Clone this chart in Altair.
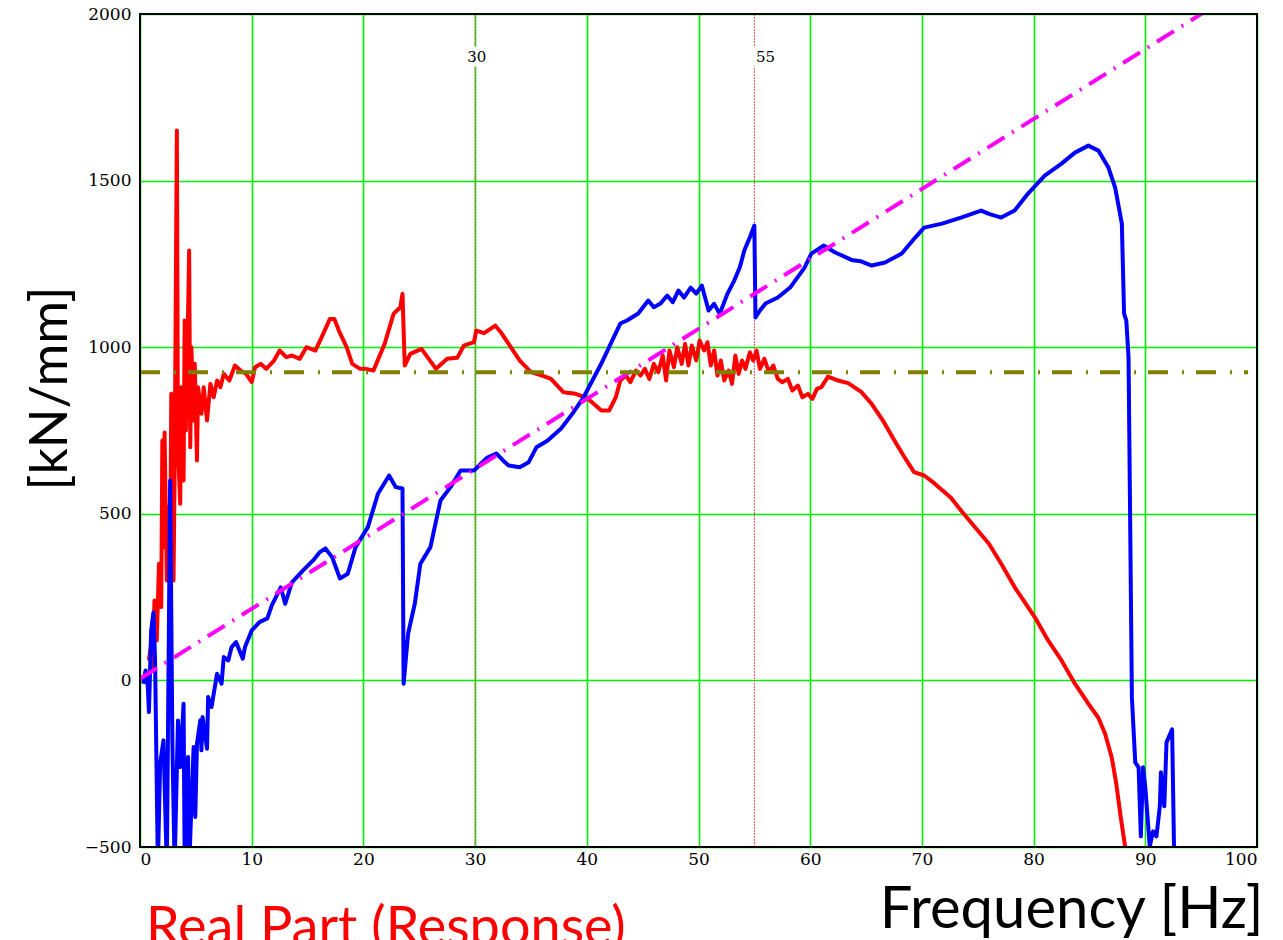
import altair as alt
import pandas as pd

# ---- Real part (red) ----
red_freq = [0.8, 1.0, 1.1, 1.3, 1.5, 1.7, 1.9, 2.0, 2.1, 2.2, 2.4, 2.5, 2.7, 2.8, 3.0, 3.1, 3.3, 3.4, 3.6, 3.7,
            3.9, 4.0, 4.1, 4.2, 4.4, 4.5, 4.6, 4.8, 4.9, 5.1, 5.2, 5.5, 5.7, 6.0, 6.3, 6.6, 6.9, 7.2, 7.5, 8.0,
            8.5, 9.0, 9.5, 10.0, 10.3, 10.8, 11.3, 12.0, 12.5, 13.1, 13.6, 14.3, 14.9, 15.7, 16.4, 17.0, 17.4,
            17.8, 18.5, 19.0, 19.7, 20.2, 20.9, 21.9, 22.7, 23.3, 23.5, 23.7, 24.2, 25.2, 26.5, 27.5, 28.4,
            29.0, 29.9, 30.1, 30.8, 31.8, 32.3, 33.0, 34.0, 35.0, 36.0, 36.8, 37.9, 39.0, 40.0, 41.3, 42.0,
            42.6, 43.0, 43.5, 43.9, 44.4, 44.8, 45.2, 45.6, 46.0, 46.4, 46.8, 47.1, 47.4, 47.8, 48.1, 48.5,
            48.8, 49.1, 49.4, 49.8, 50.1, 50.5, 50.8, 51.1, 51.4, 51.7, 52.0, 52.3, 52.7, 53.0, 53.3, 53.6,
            53.9, 54.2, 54.6, 54.9, 55.2, 55.5, 55.9, 56.3, 56.7, 57.1, 57.5, 58.0, 58.4, 58.9, 59.3, 59.8,
            60.2, 60.6, 61.0, 61.6, 62.5, 63.4,
            64.6, 65.5, 66.6, 67.5, 68.4, 69.3, 70.2, 71.1, 72.6, 73.5, 74.7, 76.0, 77.1, 78.3, 79.5, 80.1,
            81.3, 82.5, 83.7, 84.9, 85.8, 86.4, 87.0, 87.4, 87.8, 88.2, 88.4]
red_kn = [60, 110, 40, 240, 120, 350, 220, 720, 400, 744, 300, 520, 330, 860, 300, 620, 1650, 700, 530, 880,
          600, 1080, 750, 900, 1290, 700, 1000, 780, 950, 660, 880, 800, 880, 780, 890, 850, 900, 880, 920, 900,
          945, 930, 920, 895, 940, 950, 935, 960, 990, 970, 975, 965, 1000, 990, 1040, 1085, 1085,
          1050, 1000, 950, 935, 935, 930, 1010, 1100, 1120, 1160, 945, 980, 995, 935, 965, 968,
          1005, 1015, 1050, 1042, 1065, 1045, 1010, 960, 925, 915, 905, 865, 860, 848, 810, 810,
          850, 900, 915, 895, 930, 915, 935, 905, 950, 925, 975, 900, 990, 940, 1000, 950,
          1010, 945, 1005, 960, 1020, 990, 1015, 945, 990, 915, 960, 900, 930, 890, 975, 920,
          960, 935, 985, 960, 990, 935, 965, 925, 945, 905, 895, 905, 870, 885, 850, 860,
          845, 875, 880, 912, 900, 892,
          865, 830, 775, 722, 672, 625, 615, 592, 548, 510, 462, 410, 350, 280, 220, 190,
          120, 60, -10, -70, -112, -160, -232, -310, -410, -500, -560]

# ---- Imaginary part (blue) ----
blue_freq = [0.3, 0.5, 0.7, 0.8, 1.0, 1.2, 1.35, 1.6, 1.8, 2.1, 2.4, 2.7, 2.9, 3.1, 3.4, 3.6, 3.9, 4.0, 4.3,
             4.4, 4.8, 4.95, 5.1, 5.4, 5.5, 5.6, 6.0, 6.1, 6.4, 6.6, 6.9, 7.3, 7.5, 7.9, 8.2, 8.6, 9.2, 9.4,
             10.0, 10.7, 11.4, 11.8, 12.6, 13.0, 13.6, 14.6, 15.5, 16.1, 16.6, 17.2, 17.9, 18.6, 19.3, 20.4,
             21.3, 22.3, 22.9, 23.5, 23.6, 24.0, 24.6, 25.1, 26.0, 26.9, 27.8, 28.7, 29.9, 31.1, 31.9, 32.5,
             33.0, 34.0, 34.8, 35.5, 36.5, 37.7, 38.7, 39.7, 40.5, 41.3, 42.4, 43.0, 43.6, 44.6, 45.5, 46.0,
             46.6, 47.2, 47.7, 48.2, 48.7, 49.3, 49.8, 50.3, 50.9, 51.4, 51.9, 52.6, 53.2, 53.7, 54.1, 54.6,
             55.0, 55.1, 55.5, 56.0, 57.1, 58.2, 59.5, 60.1, 61.2, 62.2, 63.7, 64.5, 65.5, 66.7, 68.2, 69.4,
             70.2, 71.8, 73.5, 75.3, 76.0, 77.1, 78.3, 79.5, 81.0, 82.5, 83.7, 84.9, 85.8, 86.7, 87.3, 87.9,
             88.1, 88.3, 88.5, 88.8, 89.1, 89.4, 89.6, 89.8, 90.0, 90.4, 90.7, 91.0, 91.3, 91.4, 91.7, 91.9,
             92.4, 92.6]
blue_kn = [-10, 30, -20, -95, 150, 204, 60, -560, -250, -180, -560, 600, -190, -560, -120, -260, -70, -560, -230,
           -560, -200, -410, -190, -120, -210, -110, -205, -50, -80, -40, 20, -10, 70, 60, 100, 115, 65, 100,
           150, 175, 186, 225, 279, 230, 294, 330, 360, 385, 396, 370, 306, 320, 400, 460,
           560, 615, 580, 576, -10, 140, 230, 350, 400, 540, 580, 630, 630, 669, 681, 660,
           645, 640, 655, 700, 720, 756, 800, 849, 900, 951, 1029, 1071, 1080, 1101, 1140, 1120,
           1131, 1155, 1135, 1170, 1149, 1179, 1161, 1185, 1110, 1130, 1100, 1161, 1200, 1240, 1290, 1330,
           1365, 1089, 1110, 1131, 1149, 1179, 1239, 1281, 1305, 1285, 1262, 1258, 1245, 1254, 1281, 1329,
           1359, 1371, 1389, 1410, 1400, 1389, 1410, 1461, 1515, 1551, 1584, 1605, 1590, 1539, 1479, 1371,
           1101, 1080, 969, -51, -246, -261, -468, -261, -321, -498, -453, -468, -378, -276, -378, -186,
           -147, -560]

# ---- reference lines ----
trend_freq = [0, 95.2]
trend_kn = [5, 2004]
level_freq = [0, 99.2]
level_kn = [925, 925]
marker_freq = [30, 55]
marker_label = ["30", "55"]
marker_label_kn = 1872

red_df = pd.DataFrame({"f": red_freq, "v": red_kn})
blue_df = pd.DataFrame({"f": blue_freq, "v": blue_kn})
trend_df = pd.DataFrame({"f": trend_freq, "v": trend_kn})
level_df = pd.DataFrame({"f": level_freq, "v": level_kn})
marker_df = pd.DataFrame({"f": marker_freq, "label": marker_label, "ly": [marker_label_kn] * len(marker_freq)})

W, H = 1117, 833
xs = alt.Scale(domain=[0, 100], nice=False, zero=False)
ys = alt.Scale(domain=[-500, 2000], nice=False, zero=False)

common_axis = dict(grid=True, gridColor="#00ee00", gridWidth=1.6, gridOpacity=1,
                   domain=False, ticks=False, format="d",
                   labelFont="DejaVu Serif", labelFontSize=17, labelColor="black")

x_axis = alt.Axis(values=list(range(0, 101, 10)), title="Frequency [Hz]",
                  titleFont="Lato", titleFontSize=58, titleFontWeight="normal", titleColor="black",
                  titleX=1123, titleY=80, titleAlign="right", titleBaseline="alphabetic",
                  labelPadding=4, **common_axis)
y_axis = alt.Axis(values=list(range(-500, 2001, 500)), title="[kN/mm]",
                  titleFont="Lato", titleFontSize=52, titleFontWeight="normal", titleColor="black",
                  titleX=-90, titleY=374, titleAlign="center", titleBaseline="middle", titleAngle=-90,
                  labelPadding=9, **common_axis)


def X(field):
    return alt.X(field, scale=xs, axis=x_axis)


def Y(field):
    return alt.Y(field, scale=ys, axis=y_axis)


red = alt.Chart(red_df).mark_line(color="#ff0000", strokeWidth=4, clip=True, strokeJoin="round").encode(
    x=X("f:Q"), y=Y("v:Q"), order="f:Q",
)
blue = alt.Chart(blue_df).mark_line(color="#0000ff", strokeWidth=4, clip=True, strokeJoin="round").encode(
    x=X("f:Q"), y=Y("v:Q"), order="f:Q",
)
trend = alt.Chart(trend_df).mark_line(color="#ff00ff", strokeWidth=4, strokeDash=[20, 9, 2, 9], clip=True).encode(
    x=X("f:Q"), y=Y("v:Q"),
)
level = alt.Chart(level_df).mark_line(color="#808000", strokeWidth=4, strokeDash=[20, 14, 2, 12], clip=True).encode(
    x=X("f:Q"), y=Y("v:Q"),
)
marker_rule = alt.Chart(marker_df).mark_rule(color="#e05050", strokeWidth=1, strokeDash=[2, 1]).encode(
    x=X("f:Q"),
)
marker_base = alt.Chart(marker_df).transform_calculate(
    lx="datum.f == 55 ? datum.f + 1.0 : datum.f + 0.15",
    lx0="(datum.f == 55 ? datum.f + 1.0 : datum.f + 0.15) - 1.1",
    lx1="(datum.f == 55 ? datum.f + 1.0 : datum.f + 0.15) + 1.1",
    y0="datum.ly - 30",
    y1="datum.ly + 30",
)
marker_bg = marker_base.mark_rect(color="white").encode(
    x=X("lx0:Q"), x2="lx1:Q",
    y=Y("y0:Q"), y2="y1:Q",
)
marker_text = marker_base.mark_text(font="DejaVu Serif", fontSize=15, color="black",
                                    align="center", baseline="middle").encode(
    x=X("lx:Q"), y=Y("ly:Q"), text="label:N",
)
# black frame drawn over the edge gridlines
frame = alt.Chart(alt.Data(values=[{"k": 1}])).mark_rect(
    fill=None, fillOpacity=0, stroke="black", strokeWidth=2
).encode(x=alt.value(0), x2=alt.value(W), y=alt.value(0), y2=alt.value(H))

caption = alt.Chart(alt.Data(values=[{"t": "Real Part (Response)"}])).mark_text(
    font="Lato", fontSize=54, color="#ff0000", align="left", baseline="alphabetic"
).encode(x=alt.value(6), y=alt.value(931), text="t:N")

chart = alt.layer(marker_rule, marker_bg, marker_text, red, blue, trend, level, frame, caption).properties(
    width=W, height=H,
    autosize=alt.AutoSizeParams(type="none"),
    padding={"left": 140, "top": 14, "right": 26, "bottom": 93},
    background="white",
).configure_view(stroke="black", strokeWidth=2)

chart.save("out.html", embed_options={"renderer": "svg", "actions": False})
